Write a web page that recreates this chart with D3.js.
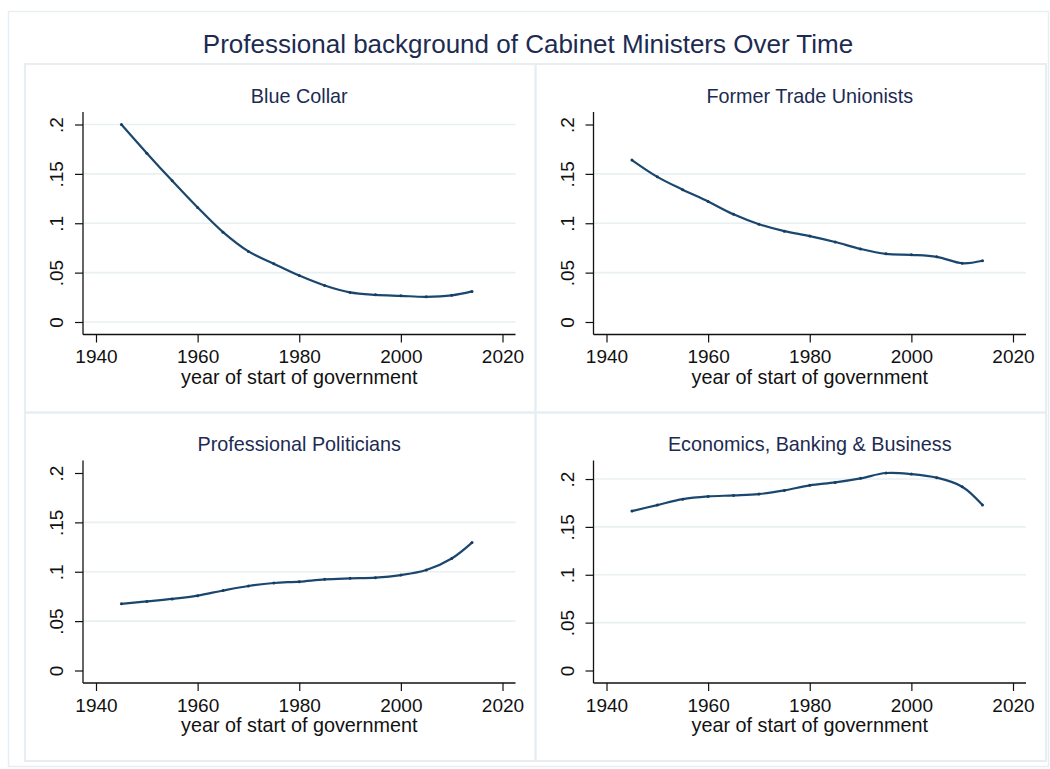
<!DOCTYPE html>
<html><head><meta charset="utf-8">
<script src="https://cdn.jsdelivr.net/npm/d3@7"></script>
<style>
body{margin:0;background:#fff}
svg{display:block}
text{font-family:"Liberation Sans",Arial,Helvetica,sans-serif}
</style>
</head><body>
<svg id="chart" width="1050" height="769"></svg>
<script>
// ---- data ----
const chartTitle = "Professional background of Cabinet Ministers Over Time";
const panelTitles = ["Blue Collar", "Former Trade Unionists", "Professional Politicians", "Economics, Banking & Business"];
const years = [1945, 1950, 1955, 1960, 1965, 1970, 1975, 1980, 1985, 1990, 1995, 2000, 2005, 2010, 2014];
const blueCollar      = [0.200, 0.171, 0.143, 0.116, 0.091, 0.0715, 0.059, 0.047, 0.037, 0.030, 0.0275, 0.0265, 0.0255, 0.027, 0.031];
const tradeUnionists  = [0.164, 0.147, 0.134, 0.122, 0.109, 0.099, 0.092, 0.087, 0.081, 0.074, 0.069, 0.068, 0.066, 0.0595, 0.062];
const profPoliticians = [0.0675, 0.070, 0.0725, 0.0758, 0.081, 0.0856, 0.0886, 0.090, 0.0923, 0.0933, 0.094, 0.0966, 0.1017, 0.1134, 0.1295];
const econBusiness    = [0.1665, 0.1728, 0.179, 0.1818, 0.1829, 0.1843, 0.1881, 0.1934, 0.1965, 0.2007, 0.2063, 0.2052, 0.2014, 0.192, 0.1728];
const seriesList = [blueCollar, tradeUnionists, profPoliticians, econBusiness];
const xTicks = [1940, 1960, 1980, 2000, 2020];
const yTicks = [0, 0.05, 0.1, 0.15, 0.2];
const yTickLabels = ["0", ".05", ".1", ".15", ".2"];
const panelGrids = [[0, 0.05, 0.1, 0.15, 0.2], [0.05, 0.1, 0.15], [0.05, 0.1, 0.15], [0.05, 0.1, 0.15, 0.2]];
const xAxisTitle = "year of start of government";

// ---- layout & style ----
const svg = d3.select("#chart");
const frameColor = "#e6eef1";
const gridColor = "#e9f0f2";
const titleColor = "#1d2b52";
const lineColor = "#1a476f";
const inkColor = "#111";
const tickFont = "19px";

const boxX0 = 25, boxY0 = 64, boxW = 510.5, boxH = 348.5;
const plotInset = {left: 58, right: 20, top: 48, bottom: 78};
const pad = {x: 13, y: 12.5};

// outer graph region
svg.append("rect")
  .attr("x", 8.5).attr("y", 11.5).attr("width", 1040).attr("height", 755)
  .attr("fill", "none").attr("stroke", frameColor).attr("stroke-width", 1.5);

svg.append("text")
  .attr("x", 528).attr("y", 53)
  .attr("text-anchor", "middle")
  .style("font-size", "26px").attr("fill", titleColor)
  .text(chartTitle);

seriesList.forEach((values, i) => {
  const col = i % 2, row = Math.floor(i / 2);
  const bx = boxX0 + col * boxW, by = boxY0 + row * boxH;
  const left = bx + plotInset.left, right = bx + boxW - plotInset.right;
  const top = by + plotInset.top, bottom = by + boxH - plotInset.bottom;

  const g = svg.append("g");

  // panel border
  g.append("rect")
    .attr("x", bx).attr("y", by).attr("width", boxW).attr("height", boxH)
    .attr("fill", "none").attr("stroke", frameColor).attr("stroke-width", 2);

  const x = d3.scaleLinear().domain([1940, 2020]).range([left + pad.x, right - pad.x]);
  const yMax = Math.max(0.2, d3.max(values));
  const y = d3.scaleLinear().domain([0, yMax]).range([bottom - pad.y, top + pad.y]);

  // panel subtitle
  g.append("text")
    .attr("x", (left + right) / 2).attr("y", by + 38.7)
    .attr("text-anchor", "middle")
    .style("font-size", "19.8px").attr("fill", titleColor)
    .text(panelTitles[i]);

  // horizontal gridlines
  g.selectAll(".grid").data(panelGrids[i]).enter().append("line")
    .attr("x1", left).attr("x2", right)
    .attr("y1", d => y(d)).attr("y2", d => y(d))
    .attr("stroke", gridColor).attr("stroke-width", 1.6);

  // x axis
  const xAxis = d3.axisBottom(x).tickValues(xTicks).tickFormat(d3.format("d"))
    .tickSize(8).tickPadding(6);
  const gx = g.append("g").attr("transform", `translate(0,${bottom})`).call(xAxis)
    .attr("font-size", null).attr("font-family", null);
  gx.select(".domain").remove();
  gx.selectAll(".tick line").attr("stroke", inkColor).attr("stroke-width", 1.2);
  gx.selectAll(".tick text")
    .style("font-size", tickFont).attr("fill", inkColor)
    .attr("dy", null).attr("y", 28.7);

  // y axis, labels turned vertical
  const yAxis = d3.axisLeft(y).tickValues(yTicks).tickFormat((d, k) => yTickLabels[k])
    .tickSize(8).tickPadding(0);
  const gy = g.append("g").attr("transform", `translate(${left},0)`).call(yAxis)
    .attr("font-size", null).attr("font-family", null);
  gy.select(".domain").remove();
  gy.selectAll(".tick line").attr("stroke", inkColor).attr("stroke-width", 1.2);
  gy.selectAll(".tick text")
    .style("font-size", tickFont).attr("fill", inkColor)
    .attr("x", null).attr("dy", null)
    .attr("text-anchor", "middle")
    .attr("transform", "translate(-20,0) rotate(-90)");

  // axis lines spanning the whole plot region
  g.append("line").attr("x1", left).attr("x2", right).attr("y1", bottom).attr("y2", bottom)
    .attr("stroke", inkColor).attr("stroke-width", 1.3);
  g.append("line").attr("x1", left).attr("x2", left).attr("y1", top).attr("y2", bottom)
    .attr("stroke", inkColor).attr("stroke-width", 1.3);

  // x axis title
  g.append("text")
    .attr("x", (left + right) / 2).attr("y", bottom + 49.3)
    .attr("text-anchor", "middle")
    .style("font-size", "19.8px").attr("fill", inkColor)
    .text(xAxisTitle);

  // smoothed share over time
  const pts = years.map((yr, k) => [yr, values[k]]);
  const line = d3.line().x(d => x(d[0])).y(d => y(d[1])).curve(d3.curveCatmullRom.alpha(0.5));
  g.append("path").datum(pts)
    .attr("d", line).attr("fill", "none")
    .attr("stroke", lineColor).attr("stroke-width", 2.2)
    .attr("stroke-linejoin", "round");
  g.selectAll(".pt").data(pts).enter().append("circle")
    .attr("cx", d => x(d[0])).attr("cy", d => y(d[1])).attr("r", 1.5)
    .attr("fill", "#163d60");
});
</script>
</body></html>
